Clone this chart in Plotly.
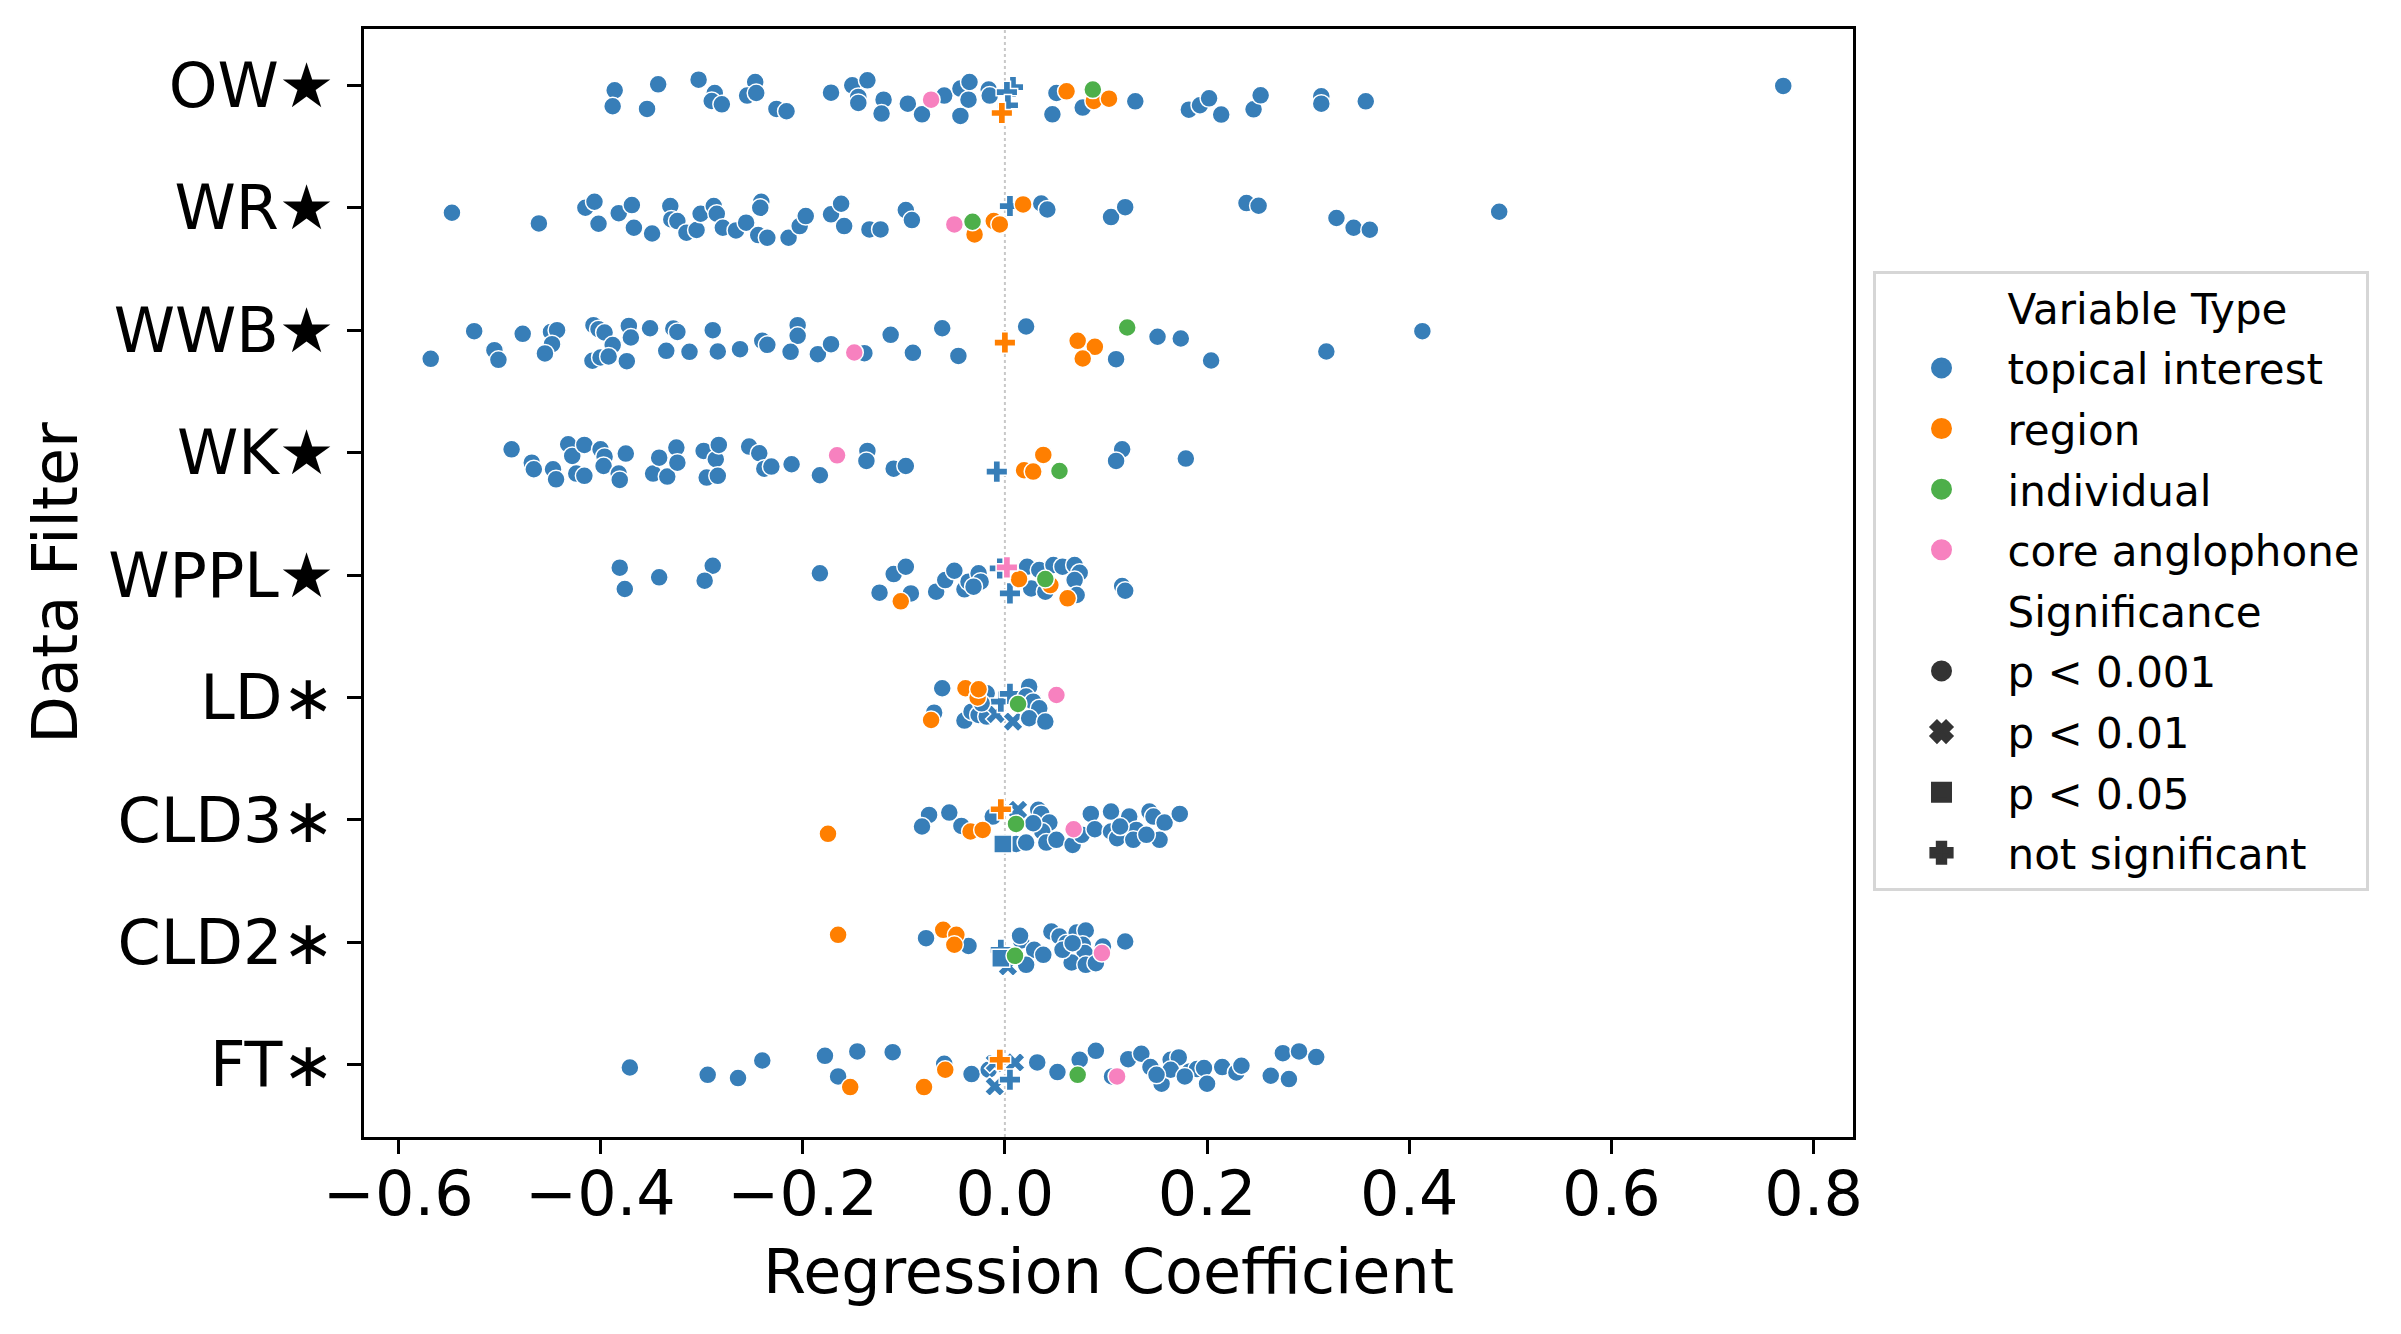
import pandas as pd
import plotly.graph_objects as go

# Data filters (top to bottom) and their y tick labels
filters = ['OW', 'WR', 'WWB', 'WK', 'WPPL', 'LD', 'CLD3', 'CLD2', 'FT']
filter_labels = ['OW★', 'WR★', 'WWB★', 'WK★', 'WPPL★', 'LD∗', 'CLD3∗', 'CLD2∗', 'FT∗']

# per filter: regression coefficient, vertical jitter, variable type, significance
# type codes: T topical interest, R region, I individual, C core anglophone
# significance codes: a p<0.001, b p<0.01, c p<0.05, n not significant
ow_coef = [-0.386, -0.388, -0.343, -0.354, -0.303, -0.287, -0.290, -0.280, -0.247, -0.255,
           -0.246, -0.226, -0.216, -0.172, -0.151, -0.136, -0.145, -0.145, -0.120, -0.122,
           -0.096, -0.082, -0.073, -0.060, -0.044, -0.035, -0.036, -0.044, -0.016, -0.015,
           0.008, 0.002, 0.003, -0.003, 0.047, 0.051, 0.061, 0.087, 0.088, 0.077,
           0.103, 0.129, 0.182, 0.193, 0.202, 0.214, 0.246, 0.253, 0.313, 0.313,
           0.357, 0.770]
ow_jit = [0.041, 0.171, -0.008, 0.193, -0.046, 0.063, 0.128, 0.155, -0.027, 0.084,
          0.063, 0.193, 0.212, 0.060, 0.000, -0.041, 0.095, 0.144, 0.117, 0.231,
          0.150, 0.237, 0.117, 0.084, 0.027, -0.027, 0.117, 0.250, 0.035, 0.084,
          0.014, 0.055, 0.163, 0.226, 0.237, 0.063, 0.049, 0.035, 0.128, 0.182,
          0.109, 0.131, 0.199, 0.163, 0.106, 0.239, 0.196, 0.082, 0.090, 0.150,
          0.131, 0.005]
ow_type = 'TTTTTTTTTTTTTTTTTTTTTTCTTTTTTTTTTRTTRIRTRTTTTTTTTTTT'
ow_sig = 'aaaaaaaaaaaaaaaaaaaaaaaaaaaaaannnnaaaaaaaaaaaaaaaaaa'

wr_coef = [-0.547, -0.461, -0.415, -0.406, -0.402, -0.382, -0.369, -0.367, -0.349, -0.331,
           -0.330, -0.324, -0.315, -0.305, -0.301, -0.288, -0.285, -0.279, -0.266, -0.256,
           -0.241, -0.242, -0.244, -0.235, -0.214, -0.203, -0.197, -0.172, -0.162, -0.159,
           -0.134, -0.123, -0.098, -0.092, -0.050, -0.032, -0.030, -0.011, -0.005, 0.005,
           0.018, 0.036, 0.042, 0.105, 0.119, 0.239, 0.251, 0.328, 0.345, 0.361,
           0.489]
wr_jit = [0.041, 0.128, 0.000, -0.049, 0.131, 0.044, -0.022, 0.163, 0.210, -0.014,
          0.095, 0.109, 0.204, 0.182, 0.049, -0.014, 0.049, 0.163, 0.185, 0.122,
          -0.049, 0.000, 0.223, 0.245, 0.245, 0.150, 0.068, 0.054, -0.033, 0.150,
          0.177, 0.177, 0.019, 0.101, 0.136, 0.114, 0.218, 0.109, 0.136, -0.014,
          -0.027, -0.035, 0.014, 0.076, -0.005, -0.038, -0.016, 0.084, 0.163, 0.180,
          0.033]
wr_type = 'TTTTTTTTTTTTTTTTTTTTTTTTTTTTTTTTTTCIRRRTRTTTTTTTTTT'
wr_sig = 'aaaaaaaaaaaaaaaaaaaaaaaaaaaaaaaaaaaaaaanaaaaaaaaaaa'

wwb_coef = [-0.568, -0.525, -0.505, -0.501, -0.477, -0.449, -0.443, -0.448, -0.455, -0.407,
            -0.402, -0.396, -0.388, -0.408, -0.400, -0.392, -0.374, -0.372, -0.370, -0.351,
            -0.328, -0.324, -0.335, -0.312, -0.289, -0.284, -0.262, -0.240, -0.235, -0.205,
            -0.205, -0.212, -0.185, -0.172, -0.149, -0.139, -0.113, -0.091, -0.062, -0.046,
            0.000, 0.021, 0.072, 0.089, 0.077, 0.110, 0.121, 0.151, 0.174, 0.204,
            0.318, 0.413]
wwb_jit = [0.234, 0.008, 0.163, 0.242, 0.030, 0.014, 0.000, 0.114, 0.190, -0.041,
           -0.008, 0.019, 0.122, 0.250, 0.223, 0.215, 0.253, -0.035, 0.060, -0.016,
           -0.014, 0.014, 0.169, 0.177, 0.000, 0.174, 0.155, 0.087, 0.120, -0.041,
           0.046, 0.177, 0.196, 0.114, 0.182, 0.188, 0.038, 0.185, -0.016, 0.210,
           0.101, -0.030, 0.087, 0.136, 0.231, 0.237, -0.022, 0.054, 0.068, 0.248,
           0.174, 0.008]
wwb_type = 'TTTTTTTTTTTTTTTTTTTTTTTTTTTTTTTTTTCTTTTTRTRRRTITTTTT'
wwb_sig = 'aaaaaaaaaaaaaaaaaaaaaaaaaaaaaaaaaaaaaaaanaaaaaaaaaaa'

wk_coef = [-0.488, -0.468, -0.466, -0.447, -0.444, -0.432, -0.428, -0.416, -0.424, -0.416,
           -0.400, -0.396, -0.397, -0.382, -0.381, -0.375, -0.348, -0.342, -0.334, -0.325,
           -0.324, -0.298, -0.295, -0.286, -0.283, -0.284, -0.253, -0.243, -0.238, -0.231,
           -0.211, -0.183, -0.166, -0.136, -0.137, -0.110, -0.098, -0.008, 0.019, 0.028,
           0.038, 0.054, 0.116, 0.110, 0.179]
wk_jit = [-0.027, 0.082, 0.136, 0.136, 0.218, -0.068, 0.027, -0.063, 0.171, 0.190,
          -0.027, 0.033, 0.109, 0.171, 0.223, 0.008, 0.171, 0.041, 0.196, -0.041,
          0.082, -0.014, 0.204, 0.054, -0.063, 0.190, -0.049, 0.005, 0.131, 0.114,
          0.095, 0.185, 0.022, -0.014, 0.068, 0.131, 0.109, 0.155, 0.144, 0.155,
          0.019, 0.150, -0.027, 0.068, 0.049]
wk_type = 'TTTTTTTTTTTTTTTTTTTTTTTTTTTTTTTTCTTTTTRRRITTT'
wk_sig = 'aaaaaaaaaaaaaaaaaaaaaaaaaaaaaaaaaaaaanaaaaaaa'

wppl_coef = [-0.381, -0.376, -0.342, -0.289, -0.297, -0.183, -0.124, -0.103, -0.110, -0.098,
             -0.093, -0.068, -0.059, -0.050, -0.040, -0.036, -0.026, -0.024, -0.031, -0.005,
             0.002, 0.005, 0.014, 0.022, 0.026, 0.034, 0.040, 0.045, 0.048, 0.057,
             0.069, 0.074, 0.069, 0.071, 0.062, 0.040, 0.116, 0.119]
wppl_jit = [-0.060, 0.114, 0.019, -0.076, 0.046, -0.014, 0.144, 0.215, -0.008, -0.068,
            0.150, 0.136, 0.041, -0.035, 0.117, 0.054, -0.014, 0.054, 0.095, -0.054,
            -0.063, 0.150, 0.033, -0.068, 0.109, -0.041, 0.033, 0.082, -0.082, -0.068,
            -0.082, -0.019, 0.041, 0.163, 0.190, 0.136, 0.090, 0.128]
wppl_type = 'TTTTTTTRTTTTTTTTTTTTCTRTTTIRTTTTTTRTTT'
wppl_sig = 'aaaaaaaaaaaaaaaaaaannnaaaaaaaaaaaaaaaa'

ld_coef = [-0.062, -0.039, -0.027, -0.026, -0.018, -0.070, -0.073, -0.040, -0.033, -0.026,
           -0.018, -0.009, -0.004, 0.005, 0.008, 0.024, 0.021, 0.028, 0.034, 0.013,
           0.024, 0.040, 0.051, -0.023]
ld_jit = [-0.075, -0.075, 0.000, -0.067, -0.034, 0.124, 0.184, 0.189, 0.116, 0.143,
          0.156, 0.135, 0.034, -0.029, 0.197, -0.088, -0.007, 0.034, 0.088, 0.053,
          0.170, 0.197, -0.020, 0.048]
ld_type = 'TRRRTTRTTTTTTTTTTTTITTCT'
ld_sig = 'aaaaaaaaaaabnnbaaaaaaaaa'

cld3_coef = [-0.175, -0.075, -0.082, -0.055, -0.043, -0.034, -0.022, -0.012, -0.004, 0.013,
             0.011, 0.033, 0.036, 0.044, 0.037, 0.041, 0.011, 0.021, 0.051, 0.067,
             0.068, 0.076, 0.085, 0.089, 0.105, 0.105, 0.111, 0.123, 0.130, 0.143,
             0.147, 0.158, 0.153, 0.173, 0.127, 0.114, 0.140, -0.002, 0.028]
cld3_jit = [0.114, -0.041, 0.054, -0.060, 0.049, 0.095, 0.082, -0.027, -0.087, -0.082,
            0.033, -0.082, -0.049, 0.022, 0.095, 0.185, 0.196, 0.185, 0.163, 0.204,
            0.076, 0.122, -0.049, 0.076, -0.068, 0.095, 0.150, -0.027, 0.082, -0.068,
            -0.027, 0.022, 0.163, -0.049, 0.163, 0.054, 0.122, 0.196, 0.027]
cld3_type = 'RTTTTRRTRTITTTTTTTTTCTTTTTTTTTTTTTTTTTT'
cld3_sig = 'aaaaaaaanbaaaaaaaaaaaaaaaaaaaaaaaaaaaca'

cld2_coef = [-0.165, -0.078, -0.061, -0.048, -0.050, -0.036, -0.004, 0.003, -0.004, 0.010,
             0.016, 0.015, 0.029, 0.038, 0.021, 0.046, 0.054, 0.061, 0.071, 0.080,
             0.077, 0.079, 0.066, 0.080, 0.090, 0.097, 0.096, 0.119, 0.057, 0.067]
cld2_jit = [-0.061, -0.034, -0.102, -0.061, 0.020, 0.029, 0.061, 0.197, 0.129, 0.110,
            -0.015, -0.053, 0.061, 0.102, 0.184, -0.088, -0.048, 0.007, -0.080, -0.097,
            0.020, 0.088, 0.165, 0.184, 0.170, 0.034, 0.088, -0.007, 0.061, 0.007]
cld2_type = 'RTRRRTTTTITTTTTTTTTTTTTTTTCTTT'
cld2_sig = 'aaaaaanbcaaaaaaaaaaaaaaaaaaaaa'

ft_coef = [-0.371, -0.294, -0.264, -0.240, -0.178, -0.165, -0.153, -0.146, -0.111, -0.080,
           -0.060, -0.059, -0.033, -0.016, -0.005, -0.010, 0.010, -0.010, 0.005, 0.032,
           0.052, 0.074, 0.072, 0.090, 0.106, 0.111, 0.122, 0.135, 0.144, 0.155,
           0.164, 0.172, 0.164, 0.183, 0.190, 0.197, 0.200, 0.215, 0.229, 0.234,
           0.263, 0.281, 0.275, 0.291, 0.308, 0.178, 0.150]
ft_jit = [0.022, 0.082, 0.109, -0.035, -0.073, 0.095, 0.182, -0.109, -0.103, 0.182,
          -0.008, 0.041, 0.076, 0.041, -0.041, -0.014, -0.019, 0.177, 0.122, -0.019,
          0.060, -0.041, 0.082, -0.114, 0.095, 0.095, -0.046, -0.090, 0.019, 0.155,
          -0.041, -0.060, 0.041, 0.054, 0.035, 0.027, 0.155, 0.019, 0.063, 0.008,
          0.090, 0.117, -0.095, -0.109, -0.063, 0.095, 0.082]
ft_type = 'TTTTTTRTTRTRTTRTTTTTTTITTCTTTTTTTTTTTTTTTTTTTTT'
ft_sig = 'aaaaaaaaaaaaaanbbbnaaaaaaaaaaaaaaaaaaaaaaaaaaaa'

x_ticks = [-0.6, -0.4, -0.2, 0.0, 0.2, 0.4, 0.6, 0.8]
x_ticktext = ['−0.6', '−0.4', '−0.2', '0.0', '0.2', '0.4', '0.6', '0.8']

type_names = {'T': 'topical interest', 'R': 'region', 'I': 'individual', 'C': 'core anglophone'}
type_colors = {'T': '#377eb8', 'R': '#ff7f00', 'I': '#4daf4a', 'C': '#f781bf'}
sig_names = {'a': 'p < 0.001', 'b': 'p < 0.01', 'c': 'p < 0.05', 'n': 'not significant'}
sig_symbols = {'a': 'circle', 'b': 'x', 'c': 'square', 'n': 'cross'}

rows = [
    (ow_coef, ow_jit, ow_type, ow_sig),
    (wr_coef, wr_jit, wr_type, wr_sig),
    (wwb_coef, wwb_jit, wwb_type, wwb_sig),
    (wk_coef, wk_jit, wk_type, wk_sig),
    (wppl_coef, wppl_jit, wppl_type, wppl_sig),
    (ld_coef, ld_jit, ld_type, ld_sig),
    (cld3_coef, cld3_jit, cld3_type, cld3_sig),
    (cld2_coef, cld2_jit, cld2_type, cld2_sig),
    (ft_coef, ft_jit, ft_type, ft_sig),
]

# long table: one record per coefficient
frames = []
for i, (coef, jit, vtype, sig) in enumerate(rows):
    frames.append(pd.DataFrame({
        'filter': filters[i],
        'pos': i,
        'coef': coef,
        'jitter': jit,
        'vtype': list(vtype),
        'sig': list(sig),
    }))
data = pd.concat(frames, ignore_index=True)
data['y'] = data['pos'] + data['jitter']

FONT = 'DejaVu Sans'
fig = go.Figure()

# dotted reference line at zero
fig.add_vline(x=0, line=dict(color='#c8c8c8', width=2, dash='dot'), layer='below')

# points, one trace per variable type (topical drawn first)
for code in ['T', 'R', 'I', 'C']:
    sub = data[data['vtype'] == code]
    fig.add_trace(go.Scatter(
        x=sub['coef'], y=sub['y'], mode='markers', showlegend=False,
        marker=dict(color=type_colors[code], size=18,
                    symbol=[sig_symbols[s] for s in sub['sig']],
                    line=dict(color='white', width=1.5)),
    ))

# legend entries (seaborn style: section headers + items), one group each for spacing
# a same-coloured outline makes the legend symbols bigger than plotly's 16px cap
n_entry = 0
def legend_entry(name, color, symbol):
    global n_entry
    n_entry += 1
    fig.add_trace(go.Scatter(
        x=[None], y=[None], mode='markers', name=name, legendgroup=f'g{n_entry}',
        marker=dict(color=color, size=16, symbol=symbol, line=dict(color=color, width=5)),
    ))

legend_entry('Variable Type', 'rgba(0,0,0,0)', 'circle')
for code in ['T', 'R', 'I', 'C']:
    legend_entry(type_names[code], type_colors[code], 'circle')
legend_entry('Significance', 'rgba(0,0,0,0)', 'circle')
for code in ['a', 'b', 'c', 'n']:
    legend_entry(sig_names[code], '#333333', sig_symbols[code])

# page body has an 8px margin, so the figure is drawn 8px smaller and shifted
fig.update_layout(
    width=2393, height=1326,
    margin=dict(l=356, r=548, t=21, b=197),
    paper_bgcolor='white', plot_bgcolor='white',
    font=dict(family=FONT, color='black', size=62),
    legend=dict(x=1.0131, y=0.782, xanchor='left', yanchor='top',
                font=dict(family=FONT, size=42),
                bordercolor='#d6d6d6', borderwidth=3, bgcolor='white',
                itemwidth=122, traceorder='grouped', tracegroupgap=3),
)
fig.update_xaxes(
    range=[-0.634, 0.839], tickvals=x_ticks, ticktext=x_ticktext,
    showgrid=False, zeroline=False,
    showline=True, mirror=True, linecolor='black', linewidth=3.3,
    ticks='outside', ticklen=14, tickwidth=3.3, tickcolor='black',
    tickfont=dict(size=62), ticklabelstandoff=-14,
    title=dict(text='Regression Coefficient', font=dict(size=62), standoff=22),
)
fig.update_yaxes(
    range=[8.59, -0.46], tickvals=list(range(len(filters))), ticktext=filter_labels,
    showgrid=False, zeroline=False,
    showline=True, mirror=True, linecolor='black', linewidth=3.3,
    ticks='outside', ticklen=14, tickwidth=3.3, tickcolor='black',
    tickfont=dict(size=62), ticklabelstandoff=0,
    title=dict(text='Data Filter', font=dict(size=62), standoff=11),
)

fig.write_html('out.html')
